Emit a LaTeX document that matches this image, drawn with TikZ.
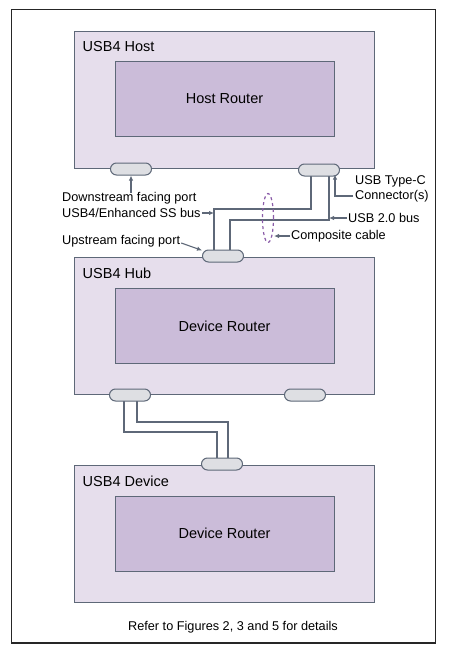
\documentclass[tikz,border=0pt]{standalone}
\usepackage{fontspec}
\setmainfont{Liberation Sans}
\usetikzlibrary{positioning,arrows.meta,shapes.geometric}
\definecolor{boxfill}{HTML}{E6DEEC}
\definecolor{routerfill}{HTML}{CBBCD9}
\definecolor{portfill}{HTML}{DEDFE3}
\definecolor{edgegray}{HTML}{5E6878}
\definecolor{cablepurple}{HTML}{8A5CA8}

\begin{document}
\begin{tikzpicture}
        [x=1pt, y=-1pt,
        box/.style={draw=edgegray, fill=boxfill, line width=1pt, minimum width=300pt, minimum height=137pt},
        router/.style={draw=edgegray, fill=routerfill, line width=1pt, minimum width=219pt, minimum height=75pt, font=\fontsize{14.5}{17}\selectfont},
        title/.style={anchor=north west, font=\fontsize{14.5}{17}\selectfont},
        port/.style={draw=edgegray, fill=portfill, line width=1pt, rounded corners=6pt, minimum width=41pt, minimum height=12pt},
        wire/.style={edgegray, line width=1.1pt},
        arr/.style={edgegray, line width=1.1pt, -{Latex[length=5pt, width=4.5pt]}},
        lbl/.style={font=\fontsize{12.7}{15}\selectfont},
        inner sep=0pt]

        \useasboundingbox (0,0) rectangle (452,656);
        \draw[line width=1.2pt, black!85] (11.5,9.5) rectangle (435.5,643);

        % --- Boxes ---
        \node[box] (host) at (224,99.5) {};
        \node[router] (hostrouter) at (224.5,98.5) {Host Router};
        \node[title] (hosttitle) at ([xshift=9pt, yshift=-11pt]host.north west) {USB4 Host};

        \node[box] (hub) at (224,325.5) {};
        \node[router] (hubrouter) at (224.5,326) {Device Router};
        \node[title] (hubtitle) at ([xshift=9pt, yshift=-11pt]hub.north west) {USB4 Hub};

        \node[box] (dev) at (224,533.5) {};
        \node[router] (devrouter) at (224.5,533.5) {Device Router};
        \node[title] (devtitle) at ([xshift=9pt, yshift=-11pt]dev.north west) {USB4 Device};

        % --- Cables ---
        \coordinate (w1) at ([xshift=-9pt]223,250);
        \coordinate (w2) at ([xshift=10pt]319,170);
        \draw[wire] ([xshift=-8pt]319,176) -- ++(0,33) -| (w1);
        \draw[wire] (w2) -- ++(0,50) -| ([xshift=7pt]223,250);
        \draw[wire] ([xshift=-6pt]130,400) -- ++(0,32) -| ([xshift=-5pt]222,460);
        \draw[wire] ([xshift=7pt]130,400) -- ++(0,22) -| ([xshift=6pt]222,460);

        % --- Ports ---
        \node[port] (dfp) at (131,169) {};
        \node[port] (hostc) at (319,170) {};
        \node[port] (ufp) at (223,256) {};
        \node[port] (hubdfp) at (130,395) {};
        \node[port] (hubdfp2) at (305,395) {};
        \node[port] (devufp) at (222,464) {};

        \node[ellipse, draw=cablepurple, dashed, line width=1.2pt, minimum width=11pt, minimum height=49pt] (cable) at (268,218) {};

        % --- Labels ---
        \node[lbl, anchor=west] (dfplabel) at (62,198) {Downstream facing port};
        \node[lbl, anchor=west] (sslabel) at (62,213) {USB4/Enhanced SS bus};
        \node[lbl, anchor=west] (ufplabel) at (62,241) {Upstream facing port};
        \node[lbl, anchor=north west, align=left] (typeclabel) at (355,175) {USB Type-C\\Connector(s)};
        \node[lbl, anchor=west] (usb2label) at (348,218) {USB 2.0 bus};
        \node[lbl, anchor=west] (cablelabel) at (291,236) {Composite cable};

        \draw[arr] ([yshift=-1pt]dfplabel.north -| dfp.south) -- (dfp.south);
        \draw[arr] ([xshift=1pt]sslabel.east) -- (sslabel.east -| w1);
        \draw[arr] ([xshift=1pt, yshift=-2pt]ufplabel.east) -- (ufp.165);
        \draw[arr] ([xshift=-2pt, yshift=-7.5pt]typeclabel.west) -| ([xshift=16pt, yshift=2pt]hostc.south);
        \draw[arr] ([xshift=-1pt]usb2label.west) -- (usb2label.west -| w2);
        \draw[arr] ([xshift=-1pt]cablelabel.west) -- (cablelabel.west -| cable.east);

        \node[lbl] (caption) at (233,627) {Refer to Figures 2, 3 and 5 for details};
    \end{tikzpicture}
\end{document}
